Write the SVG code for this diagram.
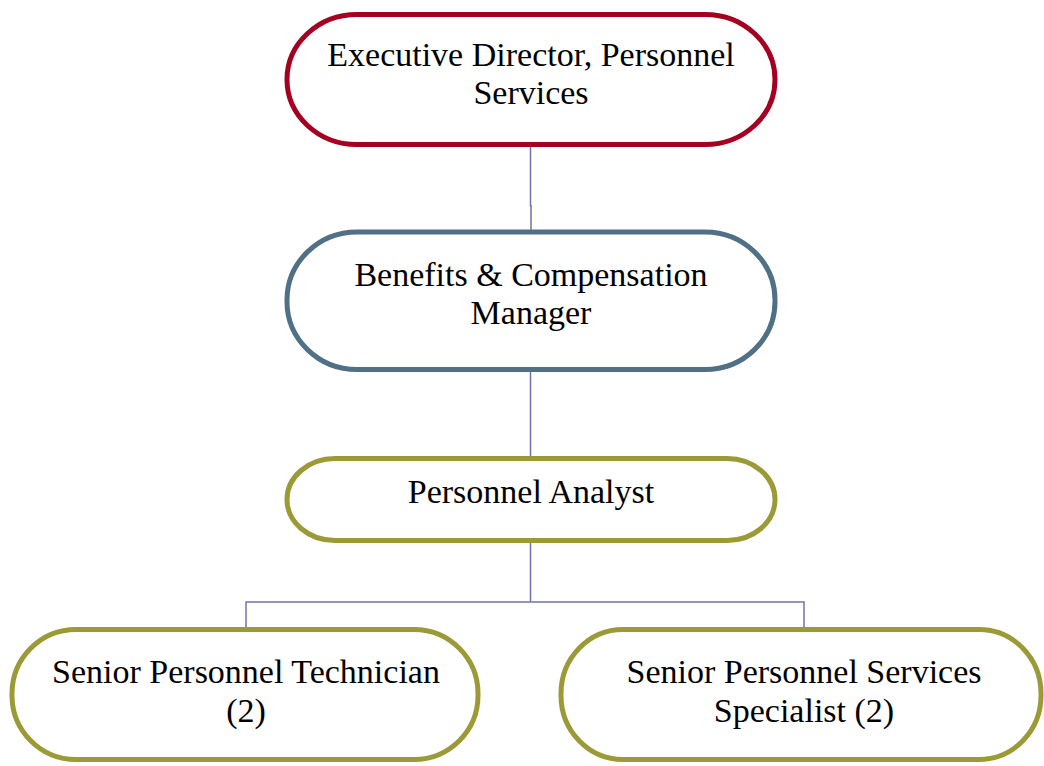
<svg xmlns="http://www.w3.org/2000/svg" width="1044" height="766" viewBox="0 0 1044 766">
<style>
.box{fill:#ffffff;stroke-width:5}
.red{stroke:#A50021}
.slate{stroke:#4F7085}
.olive{stroke:#9B9A36}
.lbl{font-family:"Liberation Serif","Times New Roman",serif;font-size:34px;fill:#000000;text-anchor:middle}
.conn{fill:none;stroke:#7272AA;stroke-width:1.5}
</style>
<rect width="1044" height="766" fill="#ffffff"/>
<g id="connectors">
<path class="conn" d="M530.5 146 V206 H531 V231"/>
<path class="conn" d="M530.5 371 V457"/>
<path class="conn" d="M530.5 542 V602"/>
<path class="conn" d="M246 628 V602 H804 V628"/>
</g>
<g id="node-executive">
<rect class="box red" x="287" y="14.5" width="488" height="130" rx="70" ry="65"/>
<text class="lbl" x="531" y="66">Executive Director, Personnel</text>
<text class="lbl" x="531" y="104">Services</text>
</g>
<g id="node-benefits">
<rect class="box slate" x="287" y="232" width="488" height="137.5" rx="70" ry="68"/>
<text class="lbl" x="531" y="286">Benefits &amp; Compensation</text>
<text class="lbl" x="531" y="324">Manager</text>
</g>
<g id="node-analyst">
<rect class="box olive" x="287" y="458.5" width="488" height="82" rx="48" ry="41"/>
<text class="lbl" x="531" y="503">Personnel Analyst</text>
</g>
<g id="node-technician">
<rect class="box olive" x="12" y="629.5" width="466" height="130" rx="64" ry="64"/>
<text class="lbl" x="246" y="683">Senior Personnel Technician</text>
<text class="lbl" x="246" y="722">(2)</text>
</g>
<g id="node-specialist">
<rect class="box olive" x="561" y="629.5" width="480" height="130" rx="62" ry="64"/>
<text class="lbl" x="804" y="683">Senior Personnel Services</text>
<text class="lbl" x="804" y="722">Specialist (2)</text>
</g>
</svg>
